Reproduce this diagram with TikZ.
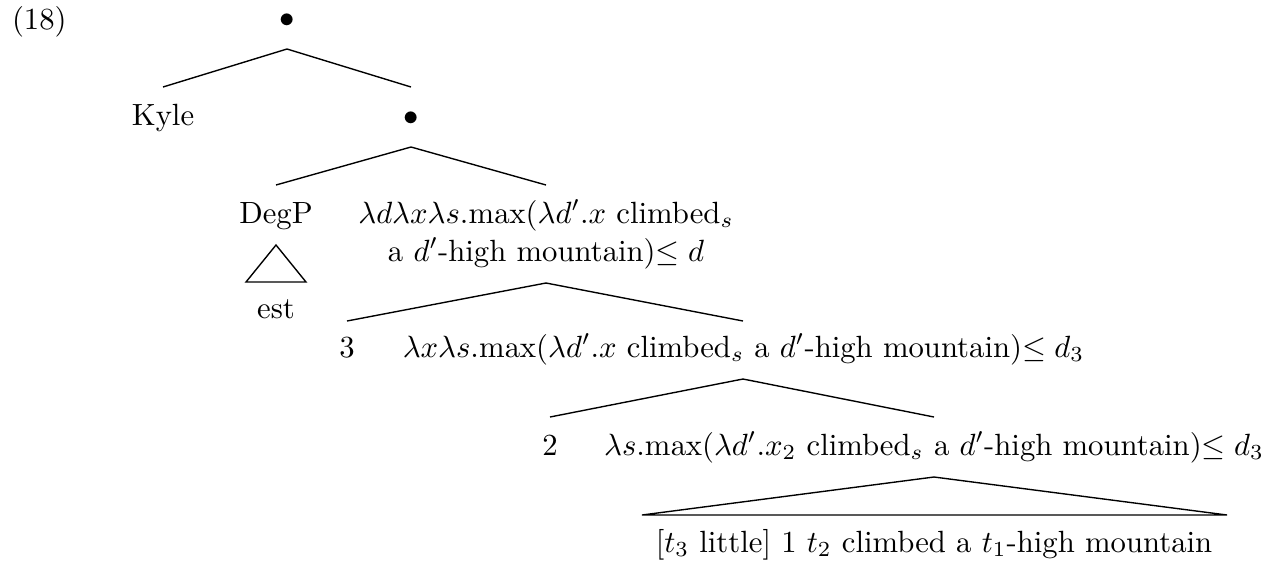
\documentclass[tikz,border=0pt]{standalone}
\begin{document}
\begin{tikzpicture}[x=0.3257pt,y=-0.3257pt,
  lbl/.style={inner sep=0pt, outer sep=0pt, anchor=base},
  branch/.style={line width=0.45pt},
  roof/.style={line width=0.45pt}]
\useasboundingbox (0,0) rectangle (1283,564);
% labels
\node[lbl, anchor=base west] (ex) at (12,29) {(18)};
\node[lbl] (root) at (287,27) {$\bullet$};
\node[lbl] (kyle) at (163,125) {Kyle};
\node[lbl] (b2) at (411,125) {$\bullet$};
\node[lbl] (degp) at (276,223) {DegP};
\node[lbl] (lamA) at (546,223) {$\lambda d\lambda x\lambda s.\mathrm{max}(\lambda d'.x$ climbed$_s$};
\node[lbl] (lamB) at (546,261) {a $d'$-high mountain)$\leq d$};
\node[lbl] (est) at (276,318) {est};
\node[lbl] (three) at (347,357) {3};
\node[lbl] (lamC) at (743.5,357) {$\lambda x\lambda s.\mathrm{max}(\lambda d'.x$ climbed$_s$ a $d'$-high mountain)$\leq d_3$};
\node[lbl] (two) at (550,455) {2};
\node[lbl] (lamD) at (934,455) {$\lambda s.\mathrm{max}(\lambda d'.x_2$ climbed$_s$ a $d'$-high mountain)$\leq d_3$};
\node[lbl] (bot) at (934,552) {[$t_3$ little] 1 $t_2$ climbed a $t_1$-high mountain};
% edge end points
\coordinate (rootB) at (287,49);
\coordinate (kyleT) at (163,87);
\coordinate (b2T) at (411,87);
\coordinate (b2B) at (411,147);
\coordinate (degpT) at (276,185);
\coordinate (lamAT) at (546,185);
\coordinate (degpB) at (276,245);
\coordinate (estL) at (246,282);
\coordinate (estR) at (306,282);
\coordinate (lamBB) at (546,283);
\coordinate (threeT) at (347,321);
\coordinate (lamCT) at (743,321);
\coordinate (lamCB) at (743,379);
\coordinate (twoT) at (550,417);
\coordinate (lamDT) at (934,417);
\coordinate (lamDB) at (934,477);
\coordinate (botL) at (642,515);
\coordinate (botR) at (1227,515);
% branches
\draw[branch] (kyleT) -- (rootB) -- (b2T);
\draw[branch] (degpT) -- (b2B) -- (lamAT);
\draw[roof] (degpB) -- (estR) -- (estL) -- cycle;
\draw[branch] (threeT) -- (lamBB) -- (lamCT);
\draw[branch] (twoT) -- (lamCB) -- (lamDT);
\draw[roof] (lamDB) -- (botR) -- (botL) -- cycle;
\end{tikzpicture}
\end{document}
